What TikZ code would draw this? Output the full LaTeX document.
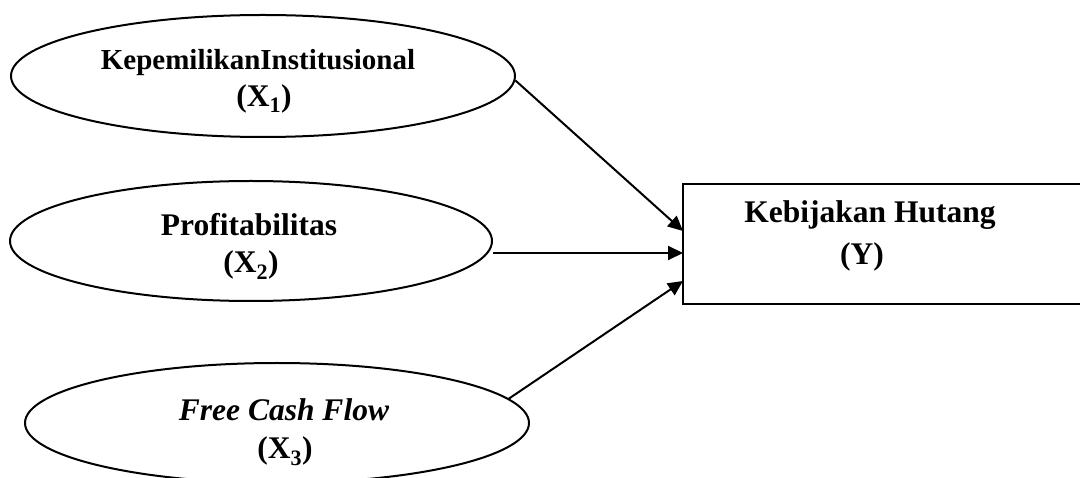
\documentclass[tikz,border=0pt]{standalone}
\usepackage{fontspec}
\setmainfont{Liberation Serif}
\usetikzlibrary{shapes.geometric,arrows.meta}
\begin{document}
\begin{tikzpicture}[x=1pt,y=-1pt,
  oval/.style={draw,ellipse,line width=2pt,inner sep=0pt},
  lbl/.style={anchor=base,inner sep=0pt,font=\bfseries\fontsize{31.5}{36}\selectfont},
  arr/.style={-{Triangle[length=15pt,width=14pt]},line width=2pt},
]
\useasboundingbox (0,0) rectangle (1080,478);
% ovals
\node[oval,minimum width=504pt,minimum height=122pt] (e1) at (263,76) {};
\node[oval,minimum width=482pt,minimum height=120pt] (e2) at (251,241) {};
\node[oval,minimum width=504pt,minimum height=120pt] (e3) at (277,423) {};
% box
\node[draw,line width=2.2pt,minimum width=407pt,minimum height=120pt,inner sep=0pt] (b) at (886.5,244) {};
% labels
\node[lbl,font=\bfseries\fontsize{29}{34}\selectfont] (t1a) at (258,70) {KepemilikanInstitusional};
\node[lbl] (t1b) at (264,107) {(X\textsubscript{1})};
\node[lbl] (t2a) at (249,236) {Profitabilitas};
\node[lbl] (t2b) at (251,273) {(X\textsubscript{2})};
\node[lbl,font=\bfseries\itshape\fontsize{31.5}{36}\selectfont] (t3a) at (284,421) {Free Cash Flow};
\node[lbl] (t3b) at (285,459) {(X\textsubscript{3})};
\node[lbl] (ya) at (870,223) {Kebijakan Hutang};
\node[lbl] (yb) at (862,265) {(Y)};
% arrow ends on the box
\coordinate (p1) at (683,231);
\coordinate (p2) at (683,253);
\coordinate (p3) at (683,281);
\draw[arr] (e1.-1) -- (p1);
\draw[arr] (e2.east |- p2) -- (p2);
\draw[arr] (e3.6) -- (p3);
\end{tikzpicture}
\end{document}
